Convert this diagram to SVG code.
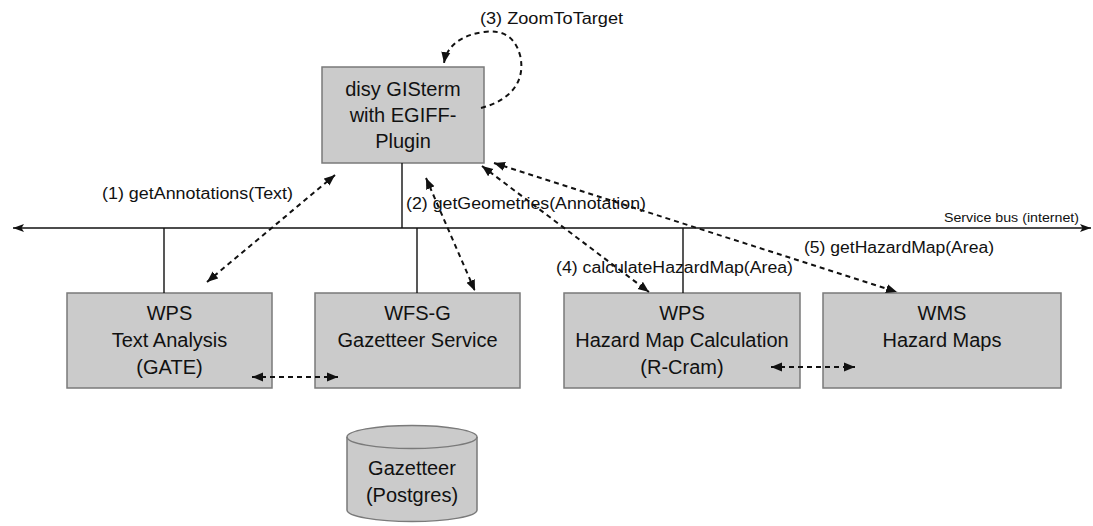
<svg xmlns="http://www.w3.org/2000/svg" width="1093" height="526" viewBox="0 0 1093 526">
  <style>
    .box { fill: #cbcbcb; stroke: #7a7a7a; stroke-width: 1.5; }
    .t { font-family: "Liberation Sans", Arial, sans-serif; font-size: 20px; fill: #111; text-anchor: middle; }
    .lbl { font-family: "Liberation Sans", Arial, sans-serif; font-size: 16px; fill: #111; }
    .bus { font-family: "Liberation Sans", Arial, sans-serif; font-size: 13px; fill: #111; }
    .solid { stroke: #111; stroke-width: 1.4; fill: none; }
    .dash { stroke: #111; stroke-width: 2; stroke-dasharray: 5 4; fill: none; }
  </style>
  <defs>
    <marker id="ah" markerUnits="userSpaceOnUse" markerWidth="12" markerHeight="10" refX="11" refY="5" orient="auto-start-reverse">
      <path d="M0,0.5 L11,5 L0,9.5 z" fill="#111"/>
    </marker>
    <marker id="bh" markerUnits="userSpaceOnUse" markerWidth="12" markerHeight="10" refX="11" refY="5" orient="auto-start-reverse">
      <path d="M0,1 L11,5 L0,9 L2.5,5 z" fill="#111"/>
    </marker>
  </defs>
  <rect width="1093" height="526" fill="#ffffff"/>

  <g id="gisterm">
    <rect class="box" x="322" y="67" width="162" height="96"/>
    <text class="t" x="403" y="96">disy GISterm</text>
    <text class="t" x="403" y="122">with EGIFF-</text>
    <text class="t" x="403" y="148">Plugin</text>
  </g>

  <g id="wps-text">
    <rect class="box" x="67" y="293" width="205" height="95"/>
    <text class="t" x="169.5" y="320">WPS</text>
    <text class="t" x="169.5" y="347">Text Analysis</text>
    <text class="t" x="169.5" y="374">(GATE)</text>
  </g>

  <g id="wfs-g">
    <rect class="box" x="315" y="293" width="205" height="95"/>
    <text class="t" x="417.5" y="320">WFS-G</text>
    <text class="t" x="417.5" y="347">Gazetteer Service</text>
  </g>

  <g id="wps-hazard">
    <rect class="box" x="564" y="293" width="236" height="95"/>
    <text class="t" x="682" y="320">WPS</text>
    <text class="t" x="682" y="347">Hazard Map Calculation</text>
    <text class="t" x="682" y="374">(R-Cram)</text>
  </g>

  <g id="wms">
    <rect class="box" x="823" y="293" width="238" height="95"/>
    <text class="t" x="942" y="320">WMS</text>
    <text class="t" x="942" y="347">Hazard Maps</text>
  </g>

  <g id="gazetteer-db">
    <path class="box" d="M347,437 L347,510 A65,11.5 0 0 0 477,510 L477,437 A65,11.5 0 0 0 347,437 z"/>
    <path d="M347,437 A65,11.5 0 0 0 477,437" fill="none" stroke="#7a7a7a" stroke-width="1.5"/>
    <text class="t" x="412" y="475">Gazetteer</text>
    <text class="t" x="412" y="502">(Postgres)</text>
  </g>

  <g id="connectors">
    <line class="solid" x1="13" y1="228" x2="1091" y2="228" marker-start="url(#bh)" marker-end="url(#bh)"/>
    <line class="solid" x1="164" y1="228" x2="164" y2="293"/>
    <line class="solid" x1="402" y1="163" x2="402" y2="228"/>
    <line class="solid" x1="417" y1="228" x2="417" y2="293"/>
    <line class="solid" x1="683" y1="228" x2="683" y2="293"/>

    <line class="dash" x1="335" y1="175" x2="207" y2="282" marker-start="url(#ah)" marker-end="url(#ah)"/>
    <line class="dash" x1="426" y1="178" x2="475" y2="291" marker-start="url(#ah)" marker-end="url(#ah)"/>
    <line class="dash" x1="482" y1="166" x2="649" y2="292" marker-start="url(#ah)" marker-end="url(#ah)"/>
    <line class="dash" x1="494" y1="163" x2="897" y2="292" marker-start="url(#ah)" marker-end="url(#ah)"/>
    <path class="dash" d="M481,108 C512,100 526,80 520,55 C514,34 500,30 484,32 C462,35 447,45 444,63" marker-end="url(#ah)"/>
    <line class="dash" x1="252" y1="377" x2="338" y2="377" marker-start="url(#ah)" marker-end="url(#ah)"/>
    <line class="dash" x1="771" y1="367" x2="855" y2="367" marker-start="url(#ah)" marker-end="url(#ah)"/>

    <text class="lbl" x="480" y="24" textLength="143" lengthAdjust="spacingAndGlyphs">(3) ZoomToTarget</text>
    <text class="lbl" x="102" y="199" textLength="191" lengthAdjust="spacingAndGlyphs">(1) getAnnotations(Text)</text>
    <text class="lbl" x="406" y="209" textLength="240" lengthAdjust="spacingAndGlyphs">(2) getGeometries(Annotation)</text>
    <text class="lbl" x="556" y="273" textLength="237" lengthAdjust="spacingAndGlyphs">(4) calculateHazardMap(Area)</text>
    <text class="lbl" x="804" y="253" textLength="190" lengthAdjust="spacingAndGlyphs">(5) getHazardMap(Area)</text>
    <text class="bus" x="1079" y="222" text-anchor="end" textLength="135" lengthAdjust="spacingAndGlyphs">Service bus (internet)</text>
  </g>
</svg>
